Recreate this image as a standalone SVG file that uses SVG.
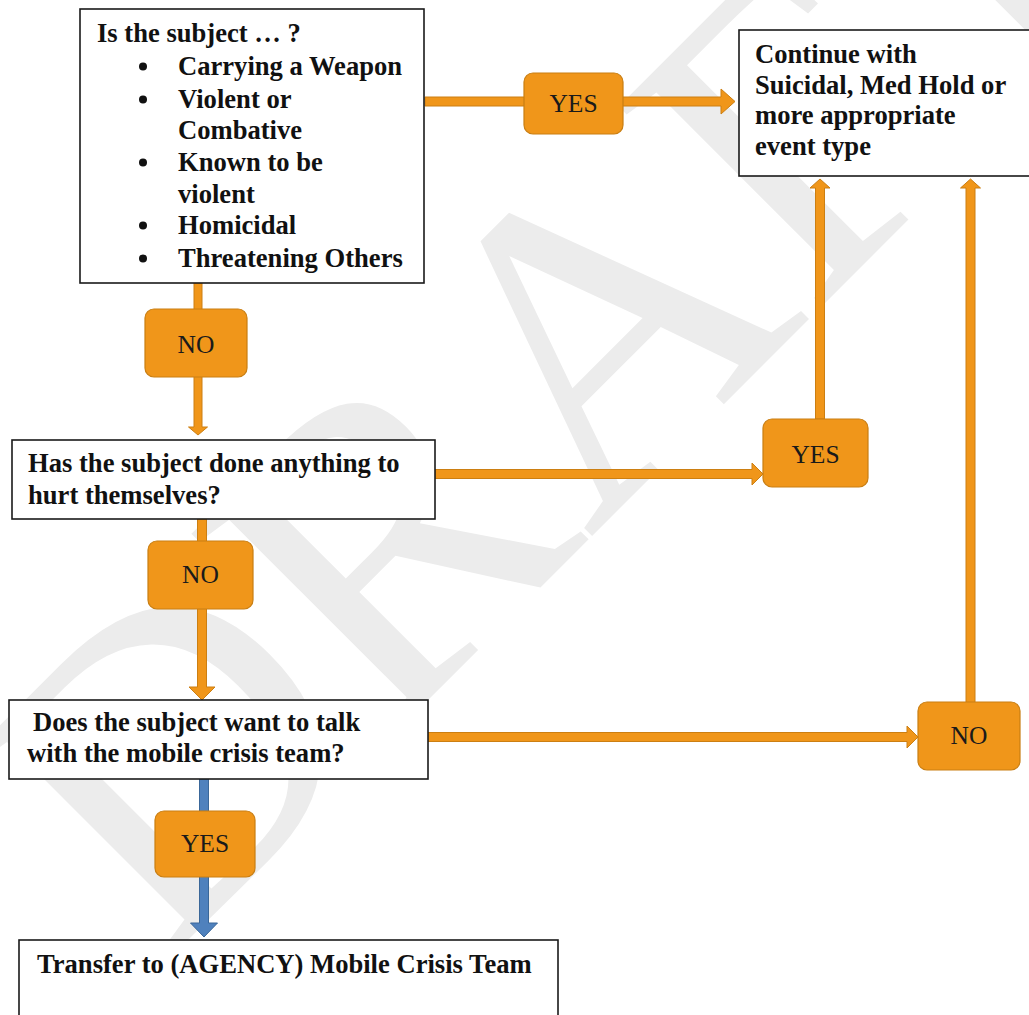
<svg xmlns="http://www.w3.org/2000/svg" width="1029" height="1015" viewBox="0 0 1029 1015">
<style>
.box{fill:#ffffff;stroke:#1a1a1a;stroke-width:1.6}
.t{font-family:"Liberation Serif","Times New Roman",serif;font-weight:bold;font-size:26.6px;fill:#111}
.lbl{fill:#F0961A;stroke:#C97E12;stroke-width:1.2}
.lt{font-family:"Liberation Serif","Times New Roman",serif;font-size:25.5px;fill:#1a1a1a;text-anchor:middle}
.ca{fill:#F0961A;stroke:#CC7F12;stroke-width:1}
.cb{fill:#4F81BD;stroke:#3A6799;stroke-width:1}
.wm{font-family:"Liberation Serif","Times New Roman",serif;font-size:435px;fill:#ececec;text-anchor:middle}
</style>
<g id="watermark">
<text class="wm" transform="translate(666,462) rotate(-45)" x="0" y="0">DRAFT</text>
</g>
<g id="connectors">
<polygon class="ca" points="425,97 721,97 721,89 735,101.5 721,114 721,106 425,106"/>
<polygon class="ca" points="194,283 202,283 202,427 207.5,427 198,435 188.5,427 194,427"/>
<polygon class="ca" points="435,469.5 752,469.5 752,463 763,474 752,485 752,478.5 435,478.5"/>
<polygon class="ca" points="815.5,419 815.5,188 810,188 820,179 830,188 824.5,188 824.5,419"/>
<polygon class="ca" points="966,703 966,188 960.5,188 970.5,179 980.5,188 975,188 975,703"/>
<polygon class="ca" points="427,732.5 907,732.5 907,726 918,737 907,748 907,741.5 427,741.5"/>
<polygon class="ca" points="197.5,519 206.5,519 206.5,687 215,687 202,700 189,687 197.5,687"/>
<polygon class="cb" points="199.5,779 208.5,779 208.5,923 217.5,923 204,937 190.5,923 199.5,923"/>
</g>
<g id="q1">
<rect class="box" x="80" y="9" width="344" height="274"/>
<text class="t" x="97" y="42">Is the subject … ?</text>
<circle cx="143" cy="66.5" r="4" fill="#111"/>
<circle cx="143" cy="99.5" r="4" fill="#111"/>
<circle cx="143" cy="162.5" r="4" fill="#111"/>
<circle cx="143" cy="225.5" r="4" fill="#111"/>
<circle cx="143" cy="258.5" r="4" fill="#111"/>
<text class="t" x="178" y="75">Carrying a Weapon</text>
<text class="t" x="178" y="108">Violent or</text>
<text class="t" x="178" y="139">Combative</text>
<text class="t" x="178" y="171">Known to be</text>
<text class="t" x="178" y="203">violent</text>
<text class="t" x="178" y="234">Homicidal</text>
<text class="t" x="178" y="267">Threatening Others</text>
</g>
<g id="continue">
<rect class="box" x="739" y="30" width="294" height="146"/>
<text class="t" x="755" y="63">Continue with</text>
<text class="t" x="755" y="94">Suicidal, Med Hold or</text>
<text class="t" x="755" y="124">more appropriate</text>
<text class="t" x="755" y="155">event type</text>
</g>
<g id="q2">
<rect class="box" x="12" y="440" width="423" height="79"/>
<text class="t" x="28" y="472">Has the subject done anything to</text>
<text class="t" x="28" y="504">hurt themselves?</text>
</g>
<g id="q3">
<rect class="box" x="9" y="700" width="419" height="79"/>
<text class="t" x="33" y="731">Does the subject want to talk</text>
<text class="t" x="27" y="762">with the mobile crisis team?</text>
</g>
<g id="transfer">
<rect class="box" x="19" y="940" width="539" height="90"/>
<text class="t" x="37" y="973">Transfer to (AGENCY) Mobile Crisis Team</text>
</g>
<g id="yes1">
<rect class="lbl" x="524" y="73" width="99" height="61" rx="9"/>
<text class="lt" x="573.5" y="112">YES</text>
</g>
<g id="no1">
<rect class="lbl" x="145" y="309" width="102" height="68" rx="9"/>
<text class="lt" x="196" y="353">NO</text>
</g>
<g id="yes2">
<rect class="lbl" x="763" y="419" width="105" height="68" rx="9"/>
<text class="lt" x="815.5" y="463">YES</text>
</g>
<g id="no2">
<rect class="lbl" x="148" y="541" width="105" height="68" rx="9"/>
<text class="lt" x="200.5" y="583">NO</text>
</g>
<g id="no3">
<rect class="lbl" x="918" y="702" width="102" height="68" rx="9"/>
<text class="lt" x="969" y="744">NO</text>
</g>
<g id="yes3">
<rect class="lbl" x="155" y="811" width="100" height="66" rx="9"/>
<text class="lt" x="205" y="852">YES</text>
</g>
</svg>
